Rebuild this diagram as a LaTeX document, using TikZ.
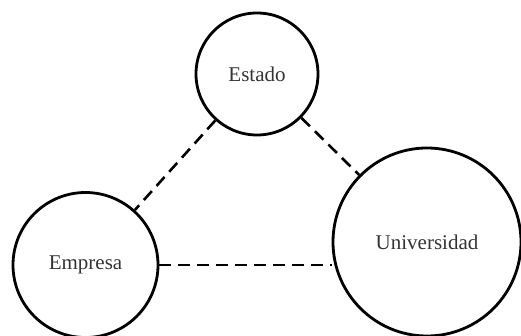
\documentclass[tikz,border=0pt]{standalone}
\usepackage{fontspec}
\setmainfont{Liberation Serif}
\begin{document}
\begin{tikzpicture}[x=1pt,y=-1pt,
  actor/.style={circle,draw=black,line width=2.8pt,inner sep=0pt,minimum size=#1,font=\fontsize{21}{24}\selectfont,text=black!80},
  link/.style={line width=2.6pt,dash pattern=on 12pt off 7pt}]
\useasboundingbox (0,0) rectangle (521,336);
\node[actor=122pt] (est) at (257,74) {Estado};
\node[actor=145pt] (emp) at (85.5,265) {Empresa};
\node[actor=188pt] (uni) at (427,242) {Universidad};
\draw[link] (est) -- (emp);
\draw[link] (est) -- (uni);
\draw[link] (emp.east) -- (uni.west |- emp.east);
\end{tikzpicture}
\end{document}
